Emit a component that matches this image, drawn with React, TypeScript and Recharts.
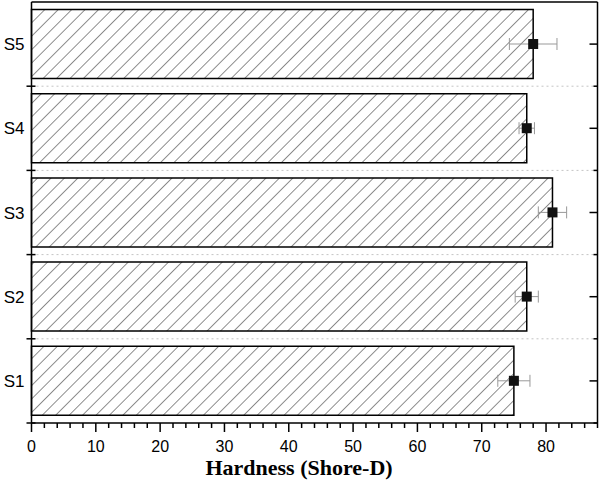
import React from "react";
import { ComposedChart, Bar, XAxis, YAxis, CartesianGrid, ErrorBar, LabelList } from "recharts";

// Hardness per sample, top to bottom as drawn
const samples = ["S5", "S4", "S3", "S2", "S1"];
const hardness = [78, 77, 81, 77, 75];
const hardnessErr = [3.7, 1.2, 2.2, 1.8, 2.5];

// x axis: minor ticks every 2, labels on the tens
const xTicks = [0, 2, 4, 6, 8, 10, 12, 14, 16, 18, 20, 22, 24, 26, 28, 30, 32, 34, 36, 38, 40, 42, 44, 46, 48, 50, 52, 54, 56, 58, 60, 62, 64, 66, 68, 70, 72, 74, 76, 78, 80, 82, 84, 86, 88];
const xMajor = [0, 10, 20, 30, 40, 50, 60, 70, 80];

const data = samples.map((name, i) => ({ name, value: hardness[i], err: hardnessErr[i] }));

const AXIS = "#000";
const FONT = "'Liberation Sans', Arial, sans-serif";

function BottomTick(props: any) {
  const { x, y, payload } = props;
  const major = xMajor.includes(payload.value);
  return (
    <g>
      <line x1={x} x2={x} y1={y} y2={y + (major ? 9 : 5)} stroke={AXIS} strokeWidth={1.5} />
      {major && (
        <text x={x} y={y + 29} textAnchor="middle" fontSize={16} fontFamily={FONT} fill="#000">
          {payload.value}
        </text>
      )}
    </g>
  );
}

function TopTick(props: any) {
  const { x, y, payload } = props;
  const major = xMajor.includes(payload.value);
  return <line x1={x} x2={x} y1={y} y2={y + (major ? 8 : 5)} stroke={AXIS} strokeWidth={1.5} />;
}

function LeftTick(props: any) {
  const { x, y, payload } = props;
  const half = payload.offset ?? 0;
  return (
    <g>
      <line x1={x - 5} x2={x + 4} y1={y + half} y2={y + half} stroke={AXIS} strokeWidth={1.5} />
      <text x={x - 7} y={y + 6} textAnchor="end" fontSize={17} fontFamily={FONT} fill="#000">
        {payload.value}
      </text>
    </g>
  );
}

function RightTick(props: any) {
  const { x, y, payload } = props;
  const half = payload.offset ?? 0;
  return (
    <g>
      <line x1={x - 8} x2={x} y1={y} y2={y} stroke={AXIS} strokeWidth={1.5} />
      <line x1={x - 4} x2={x} y1={y + half} y2={y + half} stroke={AXIS} strokeWidth={1.5} />
    </g>
  );
}

function Marker(props: any) {
  const vb = props.viewBox ?? props;
  const cx = Number(vb.x) + Number(vb.width);
  const cy = Number(vb.y) + Number(vb.height) / 2;
  return <rect x={cx - 5} y={cy - 5} width={10} height={10} fill="#111" />;
}

// dashed lines sit on the borders between category bands
function bandEdges({ offset }: any) {
  const step = offset.height / samples.length;
  return samples.slice(1).map((_, i) => offset.top + step * (i + 1));
}

export default function App() {
  return (
    <div style={{ position: "absolute", left: 0, top: 0, width: 599, height: 486, background: "#fff" }}>
      <ComposedChart
        width={599}
        height={486}
        data={data}
        layout="vertical"
        margin={{ top: 1, right: 0.5, bottom: 0, left: 0 }}
        barCategoryGap={7.5}
      >
        <defs>
          <pattern id="hatch" width="9.5" height="9.5" patternUnits="userSpaceOnUse" patternTransform="rotate(45)">
            <rect width="9.5" height="9.5" fill="#fff" />
            <line x1="0" y1="0" x2="0" y2="9.5" stroke="#333" strokeWidth={1.1} />
          </pattern>
        </defs>
        <CartesianGrid
          vertical={false}
          horizontalCoordinatesGenerator={bandEdges}
          stroke="#c4c4c4"
          strokeDasharray="2 3"
        />
        <XAxis
          type="number"
          domain={[0, 88]}
          ticks={xTicks}
          interval={0}
          height={63}
          tickSize={0}
          tickMargin={0}
          tick={<BottomTick />}
          axisLine={{ stroke: AXIS, strokeWidth: 1.5 }}
          label={{
            value: "Hardness (Shore-D)",
            content: () => (
              <text
                x={299}
                y={475}
                textAnchor="middle"
                fontSize={22}
                fontWeight="bold"
                fontFamily="'Liberation Serif', 'Times New Roman', serif"
                fill="#000"
              >
                Hardness (Shore-D)
              </text>
            ),
          }}
        />
        <XAxis
          xAxisId="top"
          orientation="top"
          type="number"
          domain={[0, 88]}
          ticks={xTicks}
          interval={0}
          height={1}
          tickSize={0}
          tickMargin={0}
          tick={<TopTick />}
          axisLine={{ stroke: AXIS, strokeWidth: 1.5 }}
        />
        <YAxis
          type="category"
          dataKey="name"
          width={31.5}
          tickSize={0}
          tickMargin={0}
          tick={<LeftTick />}
          axisLine={{ stroke: AXIS, strokeWidth: 1.5 }}
        />
        <YAxis
          yAxisId="right"
          orientation="right"
          type="category"
          dataKey="name"
          width={1}
          tickSize={0}
          tickMargin={0}
          tick={<RightTick />}
          axisLine={{ stroke: AXIS, strokeWidth: 1.5 }}
        />
        <Bar dataKey="value" fill="url(#hatch)" stroke="#000" strokeWidth={1.5} isAnimationActive={false}>
          <ErrorBar dataKey="err" direction="x" width={6} stroke="#999" strokeWidth={1} />
          <LabelList dataKey="value" content={Marker} />
        </Bar>
      </ComposedChart>
    </div>
  );
}
